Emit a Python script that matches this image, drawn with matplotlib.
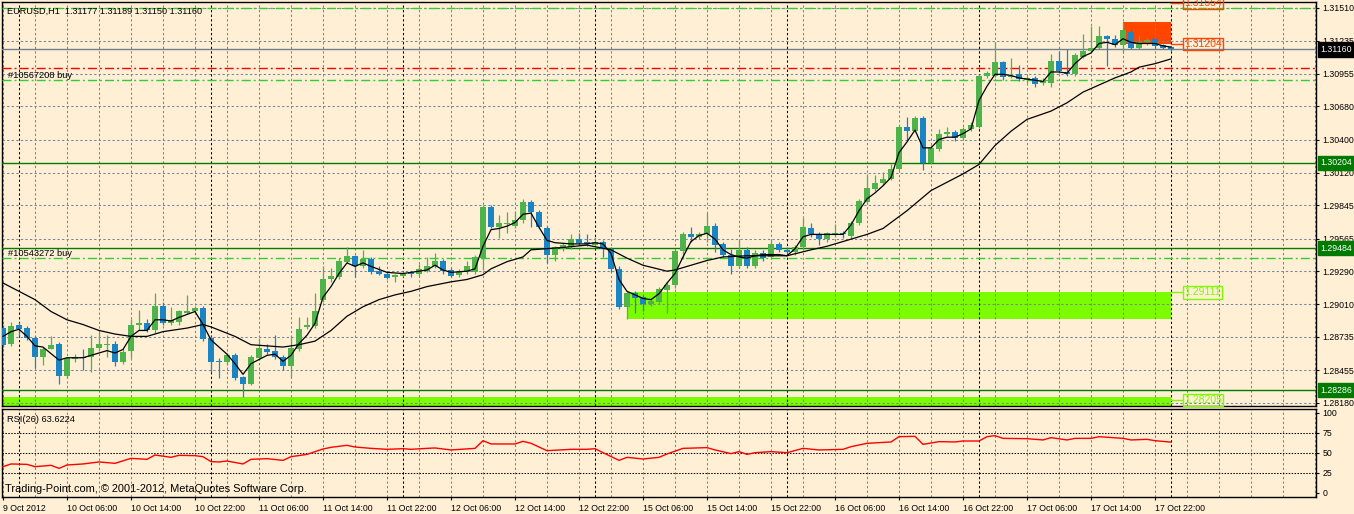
import numpy as np
import matplotlib
matplotlib.use("Agg")
from matplotlib import pyplot as plt
from matplotlib.patches import Rectangle
from matplotlib.transforms import blended_transform_factory

plt.rcParams["font.family"] = ["Liberation Sans", "DejaVu Sans"]

BG = "#FFEFD5"
BULL = "#4DB34A"
BEAR = "#1B85C4"
GRID = "#76869A"
LIME = "#7CFC00"
ORANGE = "#FF4500"
DKGREEN = "#007A00"

# %% data (EURUSD H1, bar 0 = 9 Oct 22:00)
opens = [
    1.2881, 1.2868, 1.2884, 1.2881, 1.2873, 1.2857, 1.2863, 1.2868, 1.2841, 1.2855,
    1.2857, 1.2857, 1.2864, 1.2867, 1.2868, 1.2852, 1.2862, 1.2884, 1.2885, 1.2879,
    1.2900, 1.2885, 1.2886, 1.2894, 1.2895, 1.2898, 1.2873, 1.2853, 1.2852, 1.2858,
    1.2840, 1.2834, 1.2856, 1.2863, 1.2862, 1.2857, 1.2849, 1.2863, 1.2882, 1.2883,
    1.2905, 1.2922, 1.2924, 1.2937, 1.2942, 1.2933, 1.2939, 1.2929, 1.2927, 1.2924,
    1.2925, 1.2928, 1.2927, 1.2929, 1.2933, 1.2938, 1.2930, 1.2926, 1.2928, 1.2928,
    1.2940, 1.2983, 1.2966, 1.2969, 1.2967, 1.2972, 1.2987, 1.2979, 1.2965, 1.2943,
    1.2948, 1.2949, 1.2956, 1.2954, 1.2951, 1.2954, 1.2948, 1.2931, 1.2899, 1.2911,
    1.2907, 1.2901, 1.2903, 1.2913, 1.2917, 1.2946, 1.2960, 1.2958, 1.2960, 1.2967,
    1.2952, 1.2943, 1.2933, 1.2947, 1.2933, 1.2944, 1.2941, 1.2952, 1.2947, 1.2945,
    1.2949, 1.2965, 1.2960, 1.2956, 1.2960, 1.2961, 1.2959, 1.2970, 1.2987, 1.2998,
    1.3003, 1.3007, 1.3015, 1.3051, 1.3047, 1.3058, 1.3020, 1.3032, 1.3045, 1.3046,
    1.3041, 1.3049, 1.3051, 1.3094, 1.3094, 1.3105, 1.3093, 1.3095, 1.3090, 1.3092,
    1.3088, 1.3088, 1.3106, 1.3097, 1.3095, 1.3110, 1.3115, 1.3117, 1.3127, 1.3125,
    1.3120, 1.3131, 1.3117, 1.3122, 1.3125, 1.3120, 1.31177]
highs = [
    1.2884, 1.2886, 1.2886, 1.2883, 1.2874, 1.2865, 1.2874, 1.2869, 1.2857, 1.2859,
    1.2863, 1.2875, 1.2878, 1.2875, 1.2870, 1.2863, 1.2889, 1.2896, 1.2889, 1.2911,
    1.2903, 1.2899, 1.2896, 1.2909, 1.2900, 1.2900, 1.2874, 1.2856, 1.2860, 1.2860,
    1.2841, 1.2858, 1.2873, 1.2868, 1.2875, 1.2858, 1.2874, 1.2890, 1.2890, 1.2911,
    1.2933, 1.2932, 1.2940, 1.2949, 1.2943, 1.2947, 1.2941, 1.2933, 1.2929, 1.2927,
    1.2929, 1.2929, 1.2935, 1.2941, 1.2944, 1.2939, 1.2932, 1.2931, 1.2938, 1.2943,
    1.2985, 1.2985, 1.2976, 1.2979, 1.2980, 1.2990, 1.2989, 1.2981, 1.2967, 1.2950,
    1.2953, 1.2960, 1.2961, 1.2960, 1.2958, 1.2955, 1.2949, 1.2933, 1.2912, 1.2912,
    1.2909, 1.2906, 1.2916, 1.2920, 1.2948, 1.2962, 1.2966, 1.2962, 1.2978, 1.2970,
    1.2954, 1.2948, 1.2955, 1.2949, 1.2947, 1.2947, 1.2955, 1.2954, 1.2949, 1.2951,
    1.2974, 1.2970, 1.2962, 1.2962, 1.2969, 1.2963, 1.2971, 1.2990, 1.3011, 1.3010,
    1.3013, 1.3019, 1.3052, 1.3059, 1.3060, 1.3060, 1.3035, 1.3049, 1.3051, 1.3048,
    1.3051, 1.3055, 1.3095, 1.3098, 1.3122, 1.3106, 1.3109, 1.3103, 1.3094, 1.3094,
    1.3092, 1.3112, 1.3115, 1.3116, 1.3113, 1.3129, 1.3136, 1.3136, 1.3128, 1.3128,
    1.3138, 1.3134, 1.3128, 1.3126, 1.3126, 1.3121, 1.31189]
lows = [
    1.2865, 1.2866, 1.2874, 1.2871, 1.2847, 1.2850, 1.2863, 1.2834, 1.2839, 1.2852,
    1.2846, 1.2844, 1.2863, 1.2857, 1.2849, 1.2851, 1.2856, 1.2879, 1.2878, 1.2877,
    1.2884, 1.2884, 1.2884, 1.2893, 1.2894, 1.2870, 1.2844, 1.2839, 1.2850, 1.2837,
    1.2823, 1.2833, 1.2854, 1.2859, 1.2855, 1.2846, 1.2840, 1.2862, 1.2880, 1.2881,
    1.2903, 1.2920, 1.2922, 1.2936, 1.2924, 1.2932, 1.2927, 1.2926, 1.2922, 1.2920,
    1.2924, 1.2924, 1.2925, 1.2928, 1.2932, 1.2927, 1.2924, 1.2924, 1.2927, 1.2927,
    1.2930, 1.2965, 1.2957, 1.2961, 1.2965, 1.2970, 1.2966, 1.2965, 1.2936, 1.2938,
    1.2946, 1.2948, 1.2951, 1.2950, 1.2949, 1.2941, 1.2928, 1.2897, 1.2889, 1.2894,
    1.2895, 1.2900, 1.2901, 1.2894, 1.2915, 1.2939, 1.2954, 1.2956, 1.2954, 1.2945,
    1.2941, 1.2927, 1.2932, 1.2932, 1.2932, 1.2938, 1.2939, 1.2945, 1.2943, 1.2943,
    1.2948, 1.2958, 1.2951, 1.2954, 1.2958, 1.2957, 1.2957, 1.2968, 1.2986, 1.2997,
    1.3002, 1.3006, 1.3014, 1.3040, 1.3046, 1.3014, 1.3019, 1.3030, 1.3043, 1.3039,
    1.3040, 1.3047, 1.3050, 1.3092, 1.3093, 1.3090, 1.3092, 1.3089, 1.3088, 1.3084,
    1.3086, 1.3084, 1.3096, 1.3094, 1.3094, 1.3109, 1.3114, 1.3116, 1.3102, 1.3118,
    1.3113, 1.3116, 1.3116, 1.3120, 1.3117, 1.3116, 1.31150]
closes = [
    1.2867, 1.2883, 1.2880, 1.2873, 1.2857, 1.2863, 1.2867, 1.2841, 1.2856, 1.2857,
    1.2856, 1.2864, 1.2868, 1.2868, 1.2852, 1.2861, 1.2884, 1.2885, 1.2879, 1.2900,
    1.2885, 1.2888, 1.2895, 1.2895, 1.2898, 1.2872, 1.2852, 1.2852, 1.2858, 1.2839,
    1.2834, 1.2857, 1.2864, 1.2861, 1.2857, 1.2849, 1.2864, 1.2880, 1.2884, 1.2895,
    1.2922, 1.2925, 1.2938, 1.2942, 1.2933, 1.2939, 1.2928, 1.2927, 1.2923, 1.2926,
    1.2927, 1.2927, 1.2931, 1.2933, 1.2938, 1.2929, 1.2925, 1.2928, 1.2933, 1.2941,
    1.2983, 1.2966, 1.2970, 1.2970, 1.2972, 1.2987, 1.2979, 1.2966, 1.2943, 1.2949,
    1.2951, 1.2956, 1.2953, 1.2952, 1.2954, 1.2948, 1.2931, 1.2899, 1.2911, 1.2906,
    1.2901, 1.2904, 1.2914, 1.2917, 1.2946, 1.2960, 1.2958, 1.2960, 1.2967, 1.2951,
    1.2943, 1.2933, 1.2947, 1.2933, 1.2944, 1.2940, 1.2952, 1.2947, 1.2945, 1.2949,
    1.2966, 1.2960, 1.2956, 1.2961, 1.2961, 1.2960, 1.2970, 1.2988, 1.2999, 1.3003,
    1.3007, 1.3015, 1.3051, 1.3047, 1.3058, 1.3020, 1.3033, 1.3045, 1.3046, 1.3041,
    1.3049, 1.3052, 1.3094, 1.3096, 1.3105, 1.3093, 1.3094, 1.3091, 1.3092, 1.3087,
    1.3089, 1.3106, 1.3098, 1.3095, 1.3111, 1.3115, 1.3117, 1.3127, 1.3125, 1.3120,
    1.3132, 1.3117, 1.3122, 1.3124, 1.3119, 1.3117, 1.31160]

fast_ma = [
    (0, 1.2874), (1, 1.2878), (2, 1.2880), (3, 1.2874), (4, 1.2866), (5, 1.2865), (7, 1.2854), (8, 1.2856),
    (10, 1.2856), (11, 1.2858), (12, 1.2860), (13, 1.2862), (14, 1.2860), (15, 1.2863), (16, 1.2874),
    (17, 1.2879), (18, 1.2879), (19, 1.2888), (20, 1.2888), (21, 1.2887), (22, 1.2890), (24, 1.2895),
    (25, 1.2884), (26, 1.2871), (28, 1.2859), (29, 1.2851), (30, 1.2842), (31, 1.2851), (33, 1.2858),
    (34, 1.2859), (35, 1.2853), (36, 1.2858), (37, 1.2868), (38, 1.2875), (39, 1.2885), (40, 1.2907),
    (41, 1.2916), (42, 1.2927), (43, 1.2936), (44, 1.2933), (45, 1.2936), (46, 1.2933), (48, 1.2928),
    (50, 1.2927), (51, 1.2928), (53, 1.2930), (54, 1.2934), (55, 1.2930), (56, 1.2928), (58, 1.2929),
    (59, 1.2931), (60, 1.2950), (61, 1.2964), (62, 1.2965), (63, 1.2967), (64, 1.2970), (65, 1.2977),
    (66, 1.2978), (67, 1.2966), (68, 1.2955), (69, 1.2953), (71, 1.2952), (73, 1.2952), (74, 1.2953),
    (75, 1.2952), (76, 1.2944), (77, 1.2922), (78, 1.2912), (79, 1.2909), (80, 1.2906), (81, 1.2905),
    (82, 1.2910), (83, 1.2919), (84, 1.2927), (85, 1.2941), (86, 1.2954), (87, 1.2959), (88, 1.2961),
    (89, 1.2956), (90, 1.2947), (91, 1.2943), (92, 1.2941), (93, 1.2940), (94, 1.2942), (95, 1.2943),
    (97, 1.2943), (98, 1.2942), (99, 1.2948), (100, 1.2958), (101, 1.2960), (105, 1.2960), (106, 1.2968),
    (107, 1.2980), (108, 1.2990), (109, 1.2995), (110, 1.3001), (111, 1.3008), (112, 1.3029), (113, 1.3038),
    (114, 1.3048), (115, 1.3033), (116, 1.3033), (117, 1.3040), (118, 1.3042), (119, 1.3042), (120, 1.3045),
    (121, 1.3049), (122, 1.3073), (123, 1.3085), (124, 1.3095), (125, 1.3095), (126, 1.3094), (127, 1.3092),
    (128, 1.3091), (129, 1.3090), (130, 1.3089), (131, 1.3097), (132, 1.3097), (133, 1.3096), (134, 1.3104),
    (135, 1.3110), (136, 1.3113), (137, 1.3121), (138, 1.3122), (139, 1.3120), (140, 1.3125), (141, 1.3122),
    (142, 1.3121), (144, 1.3121), (145, 1.3119), (146, 1.3118)]

slow_ma = [
    (0, 1.2919), (2, 1.2912), (4, 1.2905), (6, 1.2895), (8, 1.2888), (10, 1.2884), (12, 1.2879), (14, 1.2876),
    (16, 1.2874), (18, 1.2874), (20, 1.2878), (23, 1.2881), (25, 1.2884), (26, 1.2882), (29, 1.2874),
    (31, 1.2867), (33, 1.2866), (35, 1.2865), (37, 1.2867), (39, 1.2870), (41, 1.2879), (43, 1.2891),
    (45, 1.2899), (47, 1.2905), (49, 1.2909), (51, 1.2912), (53, 1.2916), (56, 1.2920), (58, 1.2922),
    (60, 1.2926), (61, 1.2931), (63, 1.2937), (65, 1.2941), (66, 1.2947), (68, 1.2948), (70, 1.2949),
    (73, 1.2951), (76, 1.2947), (78, 1.2940), (80, 1.2934), (83, 1.2929), (84, 1.2930), (86, 1.2934),
    (88, 1.2938), (90, 1.2941), (93, 1.2942), (98, 1.2942), (101, 1.2947), (103, 1.2950), (105, 1.2954),
    (108, 1.2960), (110, 1.2965), (113, 1.2980), (116, 1.2997), (118, 1.3004), (120, 1.3011), (122, 1.3019),
    (124, 1.3035), (126, 1.3047), (128, 1.3057), (131, 1.3064), (133, 1.3071), (135, 1.3080), (137, 1.3086),
    (139, 1.3092), (141, 1.3097), (142, 1.3101), (144, 1.3104), (146, 1.3108)]

rsi = [
    (0, 32.9), (1, 36.3), (3, 35.8), (4, 32.9), (6, 34.6), (7, 30.8), (8, 35.0), (10, 36.3), (12, 38.8),
    (14, 37.1), (16, 43.3), (18, 42.1), (19, 47.5), (21, 44.6), (22, 47.1), (24, 46.7), (25, 45.4),
    (26, 39.2), (27, 38.8), (28, 40.0), (30, 36.3), (31, 42.1), (33, 42.9), (35, 40.8), (36, 45.4),
    (38, 48.3), (40, 55.0), (41, 57.1), (43, 59.6), (44, 57.5), (46, 55.8), (48, 54.6), (50, 55.4),
    (51, 54.6), (53, 55.8), (54, 56.3), (56, 53.8), (59, 55.8), (60, 65.4), (61, 61.3), (64, 61.3),
    (65, 64.6), (66, 62.1), (68, 52.9), (71, 54.6), (73, 54.6), (74, 55.4), (75, 50.4), (77, 40.8),
    (78, 44.6), (80, 42.5), (82, 44.6), (83, 48.8), (85, 55.8), (88, 56.7), (89, 53.8), (91, 49.2),
    (92, 51.7), (93, 48.3), (94, 50.4), (96, 51.7), (98, 50.4), (100, 55.8), (102, 53.8), (105, 54.6),
    (106, 57.9), (108, 62.1), (111, 63.8), (112, 70.4), (114, 70.8), (115, 60.8), (117, 64.2),
    (119, 63.8), (120, 65.0), (122, 65.0), (123, 70.4), (124, 71.7), (125, 68.3), (128, 67.9),
    (130, 66.3), (131, 69.2), (133, 66.3), (134, 68.3), (136, 68.3), (137, 70.4), (140, 68.3),
    (141, 66.3), (143, 67.1), (144, 65.4), (146, 63.6)]

price_ticks = [1.31510, 1.31235, 1.30955, 1.30680, 1.30400, 1.30120, 1.29845,
               1.29565, 1.29290, 1.29010, 1.28735, 1.28455, 1.28180]
time_labels = ["9 Oct 2012", "10 Oct 06:00", "10 Oct 14:00", "10 Oct 22:00", "11 Oct 06:00",
               "11 Oct 14:00", "11 Oct 22:00", "12 Oct 06:00", "12 Oct 14:00", "12 Oct 22:00",
               "15 Oct 06:00", "15 Oct 14:00", "15 Oct 22:00", "16 Oct 06:00", "16 Oct 14:00",
               "16 Oct 22:00", "17 Oct 06:00", "17 Oct 14:00", "17 Oct 22:00"]
day_breaks = [2, 26, 50, 74, 98, 122, 146]

bid = 1.31160
hlines_solid = [1.30204, 1.29484, 1.28286]
order_lines = [(1.3151, "#32CD32"), (1.3090, "#32CD32"), (1.2940, "#32CD32"), (1.3100, "red")]

# %% figure
W, H = 1354.0, 514.0
fig = plt.figure(figsize=(W / 100, H / 100), dpi=100, facecolor=BG)


def frame(x0, y0, x1, y1):
    return [x0 / W, 1 - y1 / H, (x1 - x0) / W, (y1 - y0) / H]


ax = fig.add_axes(frame(2, 2, 1316, 406), facecolor=BG)
ar = fig.add_axes(frame(2, 409, 1316, 497), facecolor=BG, sharex=ax)

n = len(closes)
x = np.arange(n)
o, h, l, c = map(np.array, (opens, highs, lows, closes))

dash = (0, (2.2, 2.2))
for a in (ax, ar):
    for b in range(0, 165, 4):
        a.axvline(b, color=GRID, lw=0.75, ls=dash, zorder=2)
    for b in day_breaks:
        a.axvline(b, color="black", lw=0.75, ls=dash, zorder=2.1)
    for s in a.spines.values():
        s.set_color("black")
        s.set_linewidth(1.0)

for p in price_ticks:
    ax.axhline(p, color=GRID, lw=0.75, ls=dash, zorder=2)

# objects
ax.add_patch(Rectangle((-1, 1.2810), 147, 0.00125, color=LIME, lw=0, zorder=1))
ax.add_patch(Rectangle((78, 1.28887), 68, 1.29111 - 1.28887, color=LIME, lw=0, zorder=1))
ax.add_patch(Rectangle((140, 1.31204), 6, 1.3139 - 1.31204, color=ORANGE, lw=0, zorder=1))

for p in hlines_solid:
    ax.axhline(p, color=DKGREEN, lw=1.0, zorder=3)
ax.axhline(bid, color="#708090", lw=1.0, zorder=3)
for p, col in order_lines:
    ax.axhline(p, color=col, lw=1.0, ls=(0, (6.5, 2.2, 1.4, 2.2)), zorder=3)

# candles
up = c >= o
cols = np.where(up, BULL, BEAR)
ax.vlines(x, l, h, colors=cols, lw=0.9, zorder=4)
ax.bar(x, np.maximum(np.abs(c - o), 0.00004), bottom=np.minimum(o, c), width=0.72,
       color=cols, lw=0, zorder=4.5)

fb, fv = zip(*fast_ma)
sb, sv = zip(*slow_ma)
ax.plot(fb, fv, color="black", lw=0.9, zorder=5)
ax.plot(sb, sv, color="black", lw=0.9, zorder=5)

ax.set_xlim(-0.125, 164.125)
ax.set_ylim(1.28153, 1.31560)
ax.yaxis.tick_right()
ax.set_yticks(price_ticks)
ax.set_yticklabels([f"{p:.5f}" for p in price_ticks])
ax.tick_params(axis="y", length=2.5, width=0.8, pad=2, labelsize=6.3, direction="out")
ax.tick_params(axis="x", bottom=False, labelbottom=False)

# price boxes on the axis
tr = blended_transform_factory(ax.transAxes, ax.transData)
for p, fc in [(bid, "black"), (1.30204, DKGREEN), (1.29484, DKGREEN), (1.28286, DKGREEN)]:
    ax.text(1.0035, p, f"{p:.5f}", transform=tr, ha="left", va="center", fontsize=6.3,
            color="white", clip_on=False, zorder=10,
            bbox=dict(boxstyle="square,pad=0.3", fc=fc, ec=fc))

# object labels right of the chart
for p, col, lab in [(1.31204, ORANGE, "1.31204"), (1.31554, ORANGE, "1.31554"),
                    (1.29111, LIME, "1.29111"), (1.28205, LIME, "1.28205")]:
    ax.plot([146, 147.4], [p, p], color=col, lw=1.0, zorder=3, clip_on=False)
    ax.text(147.6, p, lab, ha="left", va="center", fontsize=7.5, color=col, zorder=6,
            clip_on=False, bbox=dict(boxstyle="square,pad=0.12", fc="none", ec=col, lw=1.0))

# RSI panel
rb, rv = zip(*rsi)
ar.plot(rb, rv, color="red", lw=1.0, zorder=4)
for v in (25, 50, 75):
    ar.axhline(v, color="black", lw=0.75, ls=(0, (1.4, 1.4)), zorder=2)
ar.set_ylim(-5, 105)
ar.yaxis.tick_right()
ar.set_yticks([100, 75, 50, 25, 0])
ar.set_yticklabels(["100", "75", "50", "25", "0"])
ar.tick_params(axis="y", length=2.5, width=0.8, pad=2, labelsize=6.3)
ar.set_xticks(list(range(0, 145, 8)))
ar.set_xticklabels(time_labels)
ar.tick_params(axis="x", length=2.5, width=0.8, pad=2.5, labelsize=6.3)
for t in ar.get_xticklabels():
    t.set_ha("left")


def ftext(px, py, s, **kw):
    fig.text(px / W, 1 - py / H, s, ha="left", va="center", **kw)


ftext(8, -2, "#10547474 sell limit", fontsize=6.7, color="black")
ftext(7, 11, "EURUSD,H1  1.31177 1.31189 1.31150 1.31160", fontsize=6.6, color="black")
ftext(8, 75, "#10567208 buy", fontsize=6.7, color="black")
ftext(8, 253, "#10543272 buy", fontsize=6.7, color="black")
ftext(7, 420, "RSI(26) 63.6224", fontsize=6.7, color="black")
ftext(5, 489, "Trading-Point.com, \u00a9 2001-2012, MetaQuotes Software Corp.", fontsize=7.9,
      color="black")

fig.savefig("out.png", dpi=100, facecolor=BG)
